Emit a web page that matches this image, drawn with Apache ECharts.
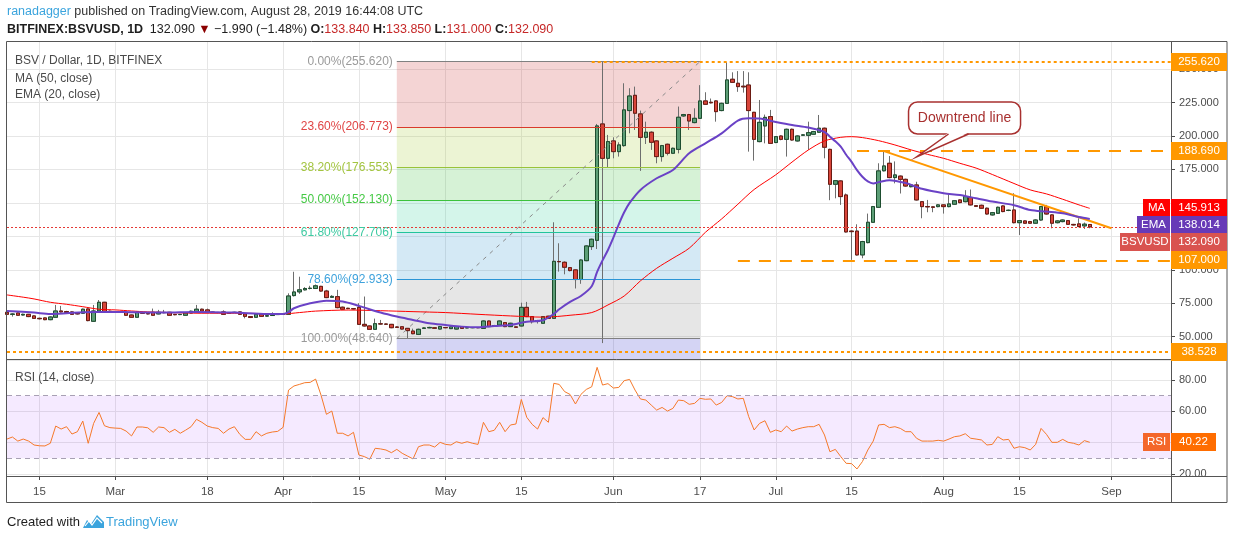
<!DOCTYPE html>
<html><head><meta charset="utf-8">
<script src="https://cdn.jsdelivr.net/npm/echarts@6/dist/echarts.min.js"></script>
<style>html,body{margin:0;padding:0;background:#fff}#c{width:1234px;height:540px}</style>
</head><body><div id="c"></div>
<script>
// ---------------- DATA ----------------
const firstDay = Date.UTC(2019, 1, 9);   // Feb 9 2019
const dayCount = 216;                     // through Sep 12 (right margin of chart)
const dates = [];
for (let k = 0; k < dayCount; k++) dates.push(new Date(firstDay + k * 86400000).toISOString().slice(0, 10));

const tickDates = ['2019-02-15','2019-03-01','2019-03-18','2019-04-01','2019-04-15','2019-05-01','2019-05-15','2019-06-01','2019-06-17','2019-07-01','2019-07-15','2019-08-01','2019-08-15','2019-09-01'];
const tickTexts = ['15','Mar','18','Apr','15','May','15','Jun','17','Jul','15','Aug','15','Sep'];
// price-axis labels that sit under the value tags (hidden, as in the reference)
const hiddenPriceLabels = [125, 150];

// daily candles: [open, high, low, close]
const candles = [
[68.2,69.0,66.0,66.7],[66.7,67.5,65.0,66.9],[67.7,68.0,65.5,66.0],[66.2,67.2,65.8,66.7],[66.7,67.0,64.6,65.0],
[65.5,66.0,63.3,63.7],[63.7,64.2,62.8,63.4],[64.0,64.3,62.3,62.7],[62.7,65.2,62.3,64.7],[64.5,73.7,64.2,69.2],
[69.2,73.0,68.0,68.5],[68.8,69.3,67.6,68.1],[68.5,69.0,66.2,66.7],[67.6,67.9,66.5,67.0],[67.5,71.0,67.0,70.5],
[70.7,71.2,61.5,62.0],[61.5,73.7,61.0,69.2],[69.2,77.4,69.0,75.7],[75.7,76.0,68.3,68.7],[69.0,69.5,67.8,68.3],
[68.5,69.0,68.0,68.4],[68.3,68.8,67.8,68.2],[68.2,68.5,65.7,66.0],[66.2,66.5,64.0,64.5],[64.5,68.6,64.2,68.2],
[67.8,68.2,67.0,67.5],[67.3,67.6,66.6,67.0],[68.2,71.0,65.7,66.0],[67.0,70.0,66.7,68.2],[68.1,70.0,67.5,67.9],
[68.2,68.5,65.6,66.0],[66.6,67.0,66.0,66.4],[66.5,67.0,66.1,66.6],[66.0,68.0,65.7,67.7],[67.7,69.5,67.4,69.0],
[68.8,73.7,68.5,70.5],[70.5,71.0,68.8,69.2],[70.0,71.0,67.9,68.2],[68.3,68.7,67.8,68.2],[68.1,68.4,67.6,68.0],
[68.5,69.7,66.4,66.7],[67.3,67.9,67.0,67.5],[68.0,68.6,67.7,68.2],[68.5,68.8,66.3,66.7],[67.0,67.3,63.7,65.2],
[65.0,65.4,63.9,64.3],[64.5,67.0,64.2,66.7],[67.0,67.3,64.8,65.2],[65.4,66.0,65.0,65.6],[65.8,68.2,65.5,66.0],
[66.5,67.0,66.2,66.7],[66.6,67.2,66.3,66.8],[66.7,82.4,66.4,80.4],[80.7,98.5,80.0,83.4],[83.5,94.8,82.0,85.0],
[85.0,87.0,84.5,86.0],[86.0,88.0,85.3,86.2],[86.0,89.0,85.6,88.0],[87.6,88.0,83.6,84.1],[84.1,85.0,78.8,79.2],
[79.4,81.0,79.0,80.1],[79.9,85.0,71.2,71.7],[72.0,72.5,70.0,70.5],[71.2,71.6,70.5,71.0],[70.9,71.3,70.3,70.8],
[71.9,75.0,58.8,59.2],[59.2,80.0,57.5,58.0],[58.0,58.3,55.0,55.5],[55.5,63.5,55.2,59.7],[59.6,62.5,59.0,59.5],
[59.4,59.8,58.8,59.3],[59.2,59.5,56.3,56.7],[57.2,57.6,56.5,57.0],[57.4,57.7,55.3,55.7],[56.2,56.5,48.64,54.5],
[54.2,56.0,51.8,52.2],[51.7,56.0,51.2,55.5],[56.2,57.0,55.8,56.5],[56.6,57.4,56.3,56.9],[56.6,57.0,55.9,56.3],
[55.7,58.0,55.4,57.5],[56.8,57.1,56.3,56.7],[56.0,57.7,55.7,57.3],[55.7,57.9,55.4,57.5],[57.5,57.8,55.9,56.2],
[56.6,57.1,56.3,56.7],[56.7,57.2,56.3,56.8],[56.8,57.1,56.3,56.7],[56.2,62.2,55.9,61.7],[61.7,62.0,57.1,57.5],
[58.0,58.8,57.6,58.3],[58.7,62.1,58.4,61.7],[60.5,60.8,57.1,57.5],[57.5,60.4,57.2,60.0],[57.3,57.6,56.6,57.0],
[58.0,75.4,57.7,71.9],[71.9,76.0,64.6,65.0],[65.0,65.3,59.8,61.2],[61.5,62.5,59.8,62.0],[60.0,65.4,59.7,65.0],
[65.3,65.6,63.3,63.7],[63.7,135.5,63.4,106.3],[106.2,119.8,98.6,106.0],[105.6,106.3,96.6,101.9],[101.6,102.0,98.8,99.4],
[99.9,100.3,86.0,92.7],[92.7,107.8,89.5,107.3],[106.8,118.3,106.4,117.8],[117.3,123.3,114.8,122.8],[122.0,209.0,115.5,207.5],
[209.0,255.62,45.2,183.3],[183.3,200.8,176.6,195.8],[196.3,199.0,183.3,188.3],[188.3,195.3,184.6,193.3],[192.8,239.4,192.0,219.5],
[219.0,235.7,202.0,229.9],[230.4,236.9,204.5,217.0],[216.5,219.0,173.9,199.0],[199.0,210.7,194.0,202.8],[202.8,203.5,189.6,195.3],
[196.3,196.8,179.6,184.6],[184.6,193.3,180.8,192.8],[193.8,194.3,185.5,187.1],[187.1,191.3,186.5,190.8],[190.0,222.0,187.0,214.0],
[215.0,216.5,214.3,216.0],[216.0,216.5,204.5,211.2],[210.0,220.7,209.5,213.2],[213.2,238.0,212.7,226.2],[226.2,232.7,223.2,223.7],
[225.2,228.0,224.3,224.8],[226.2,226.7,210.7,218.2],[219.0,224.9,218.5,224.4],[224.4,255.0,223.9,241.9],[242.4,247.6,239.6,240.1],
[239.4,248.5,233.0,236.9],[237.2,248.5,232.4,236.7],[238.1,247.6,188.3,219.0],[217.7,218.0,181.6,197.5],[195.8,226.9,195.3,210.2],
[207.5,216.0,194.5,213.9],[214.5,219.5,194.0,194.5],[195.1,200.0,194.6,199.5],[200.0,200.5,196.8,197.5],[197.5,205.5,184.6,205.0],
[205.0,205.5,196.5,197.0],[196.3,200.5,195.8,200.0],[200.6,201.3,200.2,200.8],[200.5,210.7,189.6,202.5],[201.3,203.8,200.8,203.3],
[202.8,215.7,202.3,205.8],[205.8,206.3,183.3,191.6],[190.0,190.5,152.0,163.9],[163.9,167.1,153.4,166.6],[166.4,166.9,148.5,154.7],
[155.9,157.0,127.8,128.3],[128.9,129.5,107.4,128.5],[128.9,134.0,110.6,111.1],[111.1,121.6,108.6,121.1],[120.3,142.0,119.8,135.5],
[135.5,147.7,135.0,147.2],[146.7,179.6,146.2,173.9],[174.0,189.5,173.5,177.6],[179.6,185.0,168.4,168.9],[168.9,181.0,164.6,170.9],
[170.0,170.5,157.0,167.6],[167.6,168.1,162.1,162.6],[162.1,163.9,161.6,163.4],[163.4,165.8,151.7,152.2],[150.9,151.4,138.5,147.2],
[147.3,152.2,143.0,147.0],[147.0,147.3,143.0,146.7],[147.2,149.0,146.7,148.5],[148.5,149.0,142.0,147.2],[147.2,157.0,146.7,149.2],
[149.0,152.1,148.5,151.6],[152.2,152.7,149.7,150.2],[150.9,159.5,150.4,154.7],[154.0,160.0,148.0,148.5],[147.9,148.3,146.9,147.4],
[148.2,148.7,145.5,146.0],[146.0,146.5,141.2,141.7],[141.0,143.2,140.5,142.7],[142.2,147.2,141.7,146.7],[147.7,148.2,143.0,143.5],
[144.3,145.0,143.8,144.5],[144.7,157.2,134.7,135.2],[135.2,137.2,126.0,136.7],[136.5,137.0,134.3,134.8],[136.0,136.5,134.3,134.8],
[134.8,137.7,134.3,137.2],[137.2,147.7,136.7,147.2],[147.2,148.5,141.2,141.7],[141.0,141.5,131.0,134.8],[135.2,137.0,134.7,136.5],
[136.0,137.7,135.5,137.2],[136.7,137.2,133.5,134.0],[133.9,134.3,133.0,133.5],[134.3,138.5,131.8,132.3],[132.8,135.3,130.5,134.08],
[133.84,133.85,131.0,132.09]
];

// MA(50) and EMA(20): [day index, value]
const maPoints = [[0,81.2],[3,79.5],[5,78.2],[8,75.7],[11,74.2],[14,72.4],[17,70.5],[20,70],[23,69.2],[26,68.5],[30,68],[33,67.7],[36,67.5],[42,67.5],[48,67.2],[51,67],[54,68],[57,69.1],[63,69.9],[69,69.4],[75,68.7],[81,68],[87,66.7],[93,65.5],[99,64.6],[101,64.9],[104,66],[108,68],[111,73.7],[114,80.4],[117,91.7],[120,101.1],[123,108.6],[126,116.1],[129,128],[132,138],[135,149],[138,160],[142,171],[145,180.5],[148,189.5],[151,196.3],[154,199],[156,199.5],[158,198.8],[161,196.5],[164,193.3],[167,189.6],[170,186.3],[173,183.3],[176,179.6],[179,176],[182,171.2],[186,164.5],[189,159.7],[192,156.7],[195,152.7],[198,148.5],[200,145.913]];
const emaPoints = [[0,69.2],[5,68],[8,67],[11,67.5],[14,68.2],[17,68.5],[20,68.5],[23,68.2],[29,68],[35,68.5],[42,68],[48,67],[51,67],[52,68.3],[53,71.2],[56,74.9],[59,76.9],[62,76.3],[65,73],[69,68],[72,65],[75,62.5],[78,60],[81,58.7],[84,57.5],[87,57],[90,58],[93,58.7],[96,61.2],[99,62.3],[101,67],[102,70.5],[104,76],[106,80.4],[108,87.7],[109,98.4],[110,107],[111,114.8],[112,124],[113,134],[114,143],[115,150],[117,159.7],[120,168.4],[123,174.6],[126,187.1],[129,194.5],[132,202],[135,211.5],[137,213.2],[139,213],[142,210.5],[145,208.2],[148,206.3],[151,203],[152,199.5],[153,196],[154,192],[155,186],[156,180.6],[157,174.5],[158,169.5],[159,166],[160,164.5],[161,165.5],[163,167],[166,164.8],[169,160.5],[173,157.2],[176,155.9],[179,153.4],[182,151],[186,148.3],[189,144.7],[192,143.5],[195,142.2],[198,139.5],[200,138.014]];

// RSI(14)
const rsiValues = [42.3,43.6,41,42.3,41,38.5,38,37.9,39.6,50.6,
48.7,50.2,45.5,47,53.8,39.6,52.3,59.3,50.8,49.6,
49.3,49.1,47.4,44.3,50,50,49.5,46.6,50,49.6,
46.6,48.5,46,48,50.2,54.9,53,50.6,49.6,49.1,
46,48.7,50.2,45.3,42.1,42.1,47,44.3,46,46.8,
47.2,49.8,73.6,76.2,77.2,78.3,78.5,80.6,70.4,58.1,
60.2,46,46,44.3,46.6,32.1,31.1,29.4,36.4,36,
35.3,33.6,35.7,33.2,31.4,29.6,37.4,38.5,38.5,37.2,
40.2,38.9,38.5,40.6,39.6,40.6,39.6,38.9,53,47,
47.9,53,47,51.3,51.9,67.6,56.2,51.7,48.7,56,
53,77.9,77.2,72.6,70.8,64.7,70.8,74,75.7,88.1,
76.8,77.7,74.9,75.3,79.6,80.4,73.6,67.9,67.2,64,
60.8,62.5,60.2,61.9,67.2,66.8,64.5,65.1,68.3,67.7,
67.9,64,65.7,70,69.4,67.9,68.3,56.6,48.1,52.3,
54,46.6,48.1,47,50.6,47.4,48.7,49.6,50.2,50.2,
51.7,44.9,34.2,35.7,31.1,26.8,26.6,23.2,27.9,35.3,
41,51.3,51.7,49.6,50.2,49.1,47,47,42.8,41,
41,41,41.5,41,42.3,43.8,44.3,45.7,42.8,42.3,
41.7,38.5,38.9,43.8,41.7,42.1,36.4,37.4,36.8,35.3,
38.9,49.1,45.3,40.2,40.2,42.1,40.2,39.6,38.5,41.3,
40.22];

// Fibonacci retracement
const fibRatios = ['0.00%','23.60%','38.20%','50.00%','61.80%','78.60%','100.00%'];
const fibValues = [255.620, 206.773, 176.553, 152.130, 127.706, 92.933, 48.640];
const fibStartIdx = 72, fibEndIdx = 128;

// horizontal levels & trend line
const levelTop = 255.620, levelResist = 188.690, levelSupport = 107.000, levelBottom = 38.528;
const trendStart = [162, 188.69], trendEnd = [204, 131.0];
const lastPrice = 132.090, lastMA = 145.913, lastEMA = 138.014, lastRSI = 40.22;

// ---------------- CHART ----------------
const yMin = 33.3, yMax = 271, rMin = 18.7, rMax = 92.8;
const GL = 7, GR = 1171, T1 = 41, B1 = 359, T2 = 360, B2 = 476, FR = 1227, FB = 503;
const FONT = 'Liberation Sans, Arial, sans-serif';

const tickSet = new Set(tickDates);
const tickMap = {}; tickDates.forEach((d, k) => tickMap[d] = tickTexts[k]);
const isTick = (idx, val) => tickSet.has(val);

const wickData = candles.map(c => [c[0], c[3], c[2], c[1]]);
const bodyData = candles.map(c => [c[0], c[3], Math.min(c[0], c[3]), Math.max(c[0], c[3])]);

const fibLineColors = ['#808080','#d93b2b','#99c23a','#3cc23c','#22c49b','#2b95d6','#808080'];
const fibLabelColors = ['#9a9a9a','#e04545','#a3c440','#45c945','#3fcaa2','#3ea2dc','#9a9a9a'];
const fibFill = ['rgba(200,40,40,0.2)','rgba(160,200,40,0.2)','rgba(50,190,50,0.2)','rgba(40,205,150,0.2)','rgba(40,145,205,0.2)','rgba(128,128,128,0.2)','rgba(40,40,200,0.2)'];

const fibAreas = [];
for (let k = 1; k < fibValues.length; k++) {
  fibAreas.push([{xAxis: dates[fibStartIdx], yAxis: fibValues[k - 1], itemStyle: {color: fibFill[k - 1]}}, {xAxis: dates[fibEndIdx], yAxis: fibValues[k]}]);
}
fibAreas.push([{xAxis: dates[fibStartIdx], yAxis: fibValues[fibValues.length - 1], itemStyle: {color: fibFill[6]}}, {xAxis: dates[fibEndIdx], yAxis: yMin}]);

const fibLines = fibValues.map((v, k) => [
  {coord: [dates[fibStartIdx], v], lineStyle: {color: fibLineColors[k], width: 1, type: 'solid'},
   label: {show: true, position: 'start', distance: 4, formatter: fibRatios[k] + '(' + v.toFixed(3) + ')', color: fibLabelColors[k], fontSize: 12, fontFamily: FONT}},
  {coord: [dates[fibEndIdx], v]}
]);
fibLines.push([
  {coord: [dates[fibStartIdx], fibValues[6]], lineStyle: {color: '#8a8a8a', width: 1, type: [4, 5]}, label: {show: false}},
  {coord: [dates[fibEndIdx], fibValues[0]]}
]);

const last = dates[dayCount - 1];
const ORANGE = '#ff9800';
const overlayLines = [
  [{coord: [dates[0], lastPrice], lineStyle: {color: '#e53935', width: 1, type: [2, 2]}}, {coord: [last, lastPrice]}],
  [{coord: [dates[108], levelTop], lineStyle: {color: ORANGE, width: 2, type: [3, 3]}}, {coord: [last, levelTop]}],
  [{coord: [dates[0], levelBottom], lineStyle: {color: ORANGE, width: 2, type: [3, 3]}}, {coord: [last, levelBottom]}],
  [{coord: [dates[157], levelResist], lineStyle: {color: ORANGE, width: 2, type: [12, 9]}}, {coord: [last, levelResist]}],
  [{coord: [dates[135], levelSupport], lineStyle: {color: ORANGE, width: 2, type: [12, 9]}}, {coord: [last, levelSupport]}],
  [{coord: [dates[trendStart[0]], trendStart[1]], lineStyle: {color: ORANGE, width: 2, type: 'solid'}}, {coord: [dates[trendEnd[0]], trendEnd[1]]}]
];

const chart = echarts.init(document.getElementById('c'), null, {renderer: 'canvas'});
const baseX = {
  type: 'category', data: dates, boundaryGap: false,
  axisLine: {show: false}, axisTick: {show: false}, axisLabel: {show: false},
  splitLine: {show: true, interval: isTick, lineStyle: {color: '#e6e6e6', width: 1}}
};
const option = {
  animation: false,
  backgroundColor: '#ffffff',
  textStyle: {fontFamily: FONT},
  grid: [
    {left: GL, top: T1, width: GR - GL, height: B1 - T1, containLabel: false, outerBoundsMode: 'none'},
    {left: GL, top: T2, width: GR - GL, height: B2 - T2, containLabel: false, outerBoundsMode: 'none'}
  ],
  xAxis: [
    Object.assign({}, baseX, {gridIndex: 0}),
    Object.assign({}, baseX, {gridIndex: 1,
      axisTick: {show: true, interval: isTick, length: 4, lineStyle: {color: '#4a4a4a'}},
      axisLabel: {show: true, interval: isTick, formatter: v => tickMap[v] || '', color: '#4d4d4d', fontSize: 11.5, margin: 10, fontFamily: FONT}})
  ],
  yAxis: [
    {type: 'value', gridIndex: 0, position: 'right', min: yMin, max: yMax, minInterval: 25, maxInterval: 25, splitNumber: 9,
     axisLine: {show: false}, axisTick: {show: true, length: 4, lineStyle: {color: '#4a4a4a'}},
     axisLabel: {formatter: v => hiddenPriceLabels.indexOf(Math.round(v)) >= 0 ? '' : v.toFixed(3), color: '#4d4d4d', fontSize: 11, margin: 8, showMinLabel: false, showMaxLabel: false, fontFamily: FONT},
     splitLine: {show: true, lineStyle: {color: '#e6e6e6'}}},
    {type: 'value', gridIndex: 1, position: 'right', min: rMin, max: rMax, minInterval: 20, maxInterval: 20, splitNumber: 4,
     axisLine: {show: false}, axisTick: {show: true, length: 4, lineStyle: {color: '#4a4a4a'}},
     axisLabel: {formatter: v => v.toFixed(2), color: '#4d4d4d', fontSize: 11, margin: 8, showMinLabel: false, showMaxLabel: false, fontFamily: FONT},
     splitLine: {show: true, lineStyle: {color: '#e6e6e6'}}}
  ],
  series: [
    {type: 'line', name: 'fib', xAxisIndex: 0, yAxisIndex: 0, data: [], silent: true, z: 1,
     markArea: {silent: true, data: fibAreas},
     markLine: {silent: true, symbol: ['none', 'none'], animation: false, data: fibLines}},
    {type: 'candlestick', name: 'wick', xAxisIndex: 0, yAxisIndex: 0, data: wickData, barWidth: 4, z: 3, silent: true,
     itemStyle: {color: '#5c9e76', color0: '#d8453a', borderColor: '#6e6e6e', borderColor0: '#6e6e6e', borderWidth: 1}},
    {type: 'candlestick', name: 'body', xAxisIndex: 0, yAxisIndex: 0, data: bodyData, barWidth: 4, z: 4, silent: true,
     itemStyle: {color: '#5c9e76', color0: '#d8453a', borderColor: '#1d4d2f', borderColor0: '#6b1a12', borderWidth: 1}},
    {type: 'line', name: 'MA', xAxisIndex: 0, yAxisIndex: 0, data: maPoints, symbol: 'none', smooth: 0.3, z: 5, silent: true,
     lineStyle: {color: '#ff0000', width: 1}},
    {type: 'line', name: 'EMA', xAxisIndex: 0, yAxisIndex: 0, data: emaPoints, symbol: 'none', smooth: 0.3, z: 5, silent: true,
     lineStyle: {color: '#6a42c6', width: 2}},
    {type: 'line', name: 'levels', xAxisIndex: 0, yAxisIndex: 0, data: [], silent: true, z: 6,
     markLine: {silent: true, symbol: ['none', 'none'], label: {show: false}, animation: false, data: overlayLines}},
    {type: 'line', name: 'RSI', xAxisIndex: 1, yAxisIndex: 1, data: rsiValues, symbol: 'none', z: 4, silent: true,
     lineStyle: {color: '#f5792a', width: 1},
     markArea: {silent: true, itemStyle: {color: 'rgba(153,51,255,0.1)'}, data: [[{yAxis: 30}, {yAxis: 70}]]},
     markLine: {silent: true, symbol: ['none', 'none'], label: {show: false}, animation: false,
       lineStyle: {color: '#a8a0b4', type: [5, 4], width: 1}, data: [{yAxis: 70}, {yAxis: 30}]}}
  ]
};
chart.setOption(option);

// ---------------- annotations (positioned through the chart's scales) ----------------
const G = [];
const py = v => chart.convertToPixel({yAxisIndex: 0}, v);
const ry = v => chart.convertToPixel({yAxisIndex: 1}, v);
function tag(x, y, w, text, color) {
  G.push({type: 'rect', z: 100, shape: {x: x, y: Math.round(y) - 9, width: w, height: 18}, style: {fill: color}});
  G.push({type: 'text', z: 101, x: x + w / 2, y: Math.round(y), style: {text: text, fill: '#ffffff', font: '11.5px ' + FONT, align: 'center', verticalAlign: 'middle'}});
}
// frame
G.push({type: 'rect', z: 90, shape: {x: 6.5, y: T1 + 0.5, width: FR - 6.5, height: FB - T1 - 1}, style: {fill: 'none', stroke: '#555555', lineWidth: 1}});
G.push({type: 'line', z: 90, shape: {x1: GR + 0.5, y1: T1, x2: GR + 0.5, y2: FB}, style: {stroke: '#555555', lineWidth: 1}});
G.push({type: 'line', z: 90, shape: {x1: 6.5, y1: B1 + 0.5, x2: FR, y2: B1 + 0.5}, style: {stroke: '#555555', lineWidth: 1}});
G.push({type: 'line', z: 90, shape: {x1: 6.5, y1: B2 + 0.5, x2: FR, y2: B2 + 0.5}, style: {stroke: '#555555', lineWidth: 1}});

// value tags on price axis
const VX = GR, VW = 56;
tag(VX, py(levelTop), VW, levelTop.toFixed(3), ORANGE);
tag(VX, py(levelResist), VW, levelResist.toFixed(3), ORANGE);
tag(VX, py(levelSupport), VW, levelSupport.toFixed(3), ORANGE);
tag(VX, py(levelBottom), VW, levelBottom.toFixed(3), ORANGE);
let yMA = py(lastMA);
let yEMA = Math.max(py(lastEMA), yMA + 17);
let yPx = Math.max(py(lastPrice), yEMA + 17);
tag(VX - 28, yMA, 27, 'MA', '#ff0000'); tag(VX, yMA, VW, lastMA.toFixed(3), '#ff0000');
tag(VX - 34, yEMA, 33, 'EMA', '#673ab7'); tag(VX, yEMA, VW, lastEMA.toFixed(3), '#673ab7');
tag(VX - 51, yPx, 50, 'BSVUSD', '#d9534f'); tag(VX, yPx, VW, lastPrice.toFixed(3), '#d9534f');
// RSI tags
tag(VX - 28, ry(lastRSI), 27, 'RSI', '#f4672a'); tag(VX, ry(lastRSI), 45, lastRSI.toFixed(2), '#ff6d00');

// downtrend callout
const tip = chart.convertToPixel({gridIndex: 0}, [dates[168], 184.3]);
const bx = tip[0] - 8, by = tip[1] - 55, bw = 112, bh = 32;
G.push({type: 'rect', z: 110, shape: {x: bx, y: by, width: bw, height: bh, r: 9}, style: {fill: '#ffffff', stroke: '#a8302f', lineWidth: 1.5}});
G.push({type: 'polygon', z: 111, shape: {points: [[bx + 40, by + bh - 1.5], [bx + 60, by + bh - 1.5], tip]}, style: {fill: '#ffffff'}});
G.push({type: 'polyline', z: 112, shape: {points: [[bx + 40, by + bh], tip, [bx + 60, by + bh]]}, style: {stroke: '#a8302f', lineWidth: 1.5, fill: 'none'}});
G.push({type: 'text', z: 113, x: bx + bw / 2, y: by + bh / 2, style: {text: 'Downtrend line', fill: '#a8302f', font: '14px ' + FONT, align: 'center', verticalAlign: 'middle'}});

// header
G.push({type: 'text', z: 120, x: 7, y: 12, style: {
  text: '{a|ranadagger} {b|published on TradingView.com, August 28, 2019 16:44:08 UTC}', verticalAlign: 'middle',
  rich: {a: {fill: '#3ba4dd', fontSize: 12.5, fontFamily: FONT}, b: {fill: '#333333', fontSize: 12.5, fontFamily: FONT}}}});
G.push({type: 'text', z: 120, x: 7, y: 30, style: {
  text: '{k|BITFINEX:BSVUSD, 1D}  {n|132.090} {t|▼} {n|\u22121.990 (\u22121.48%)} {k|O:}{r|133.840} {k|H:}{r|133.850} {k|L:}{r|131.000} {k|C:}{r|132.090}',
  verticalAlign: 'middle',
  rich: {k: {fill: '#1e1e1e', fontSize: 12.5, fontWeight: 'bold', fontFamily: FONT},
         n: {fill: '#1e1e1e', fontSize: 12.5, fontFamily: FONT},
         t: {fill: '#8b0000', fontSize: 12.5, fontFamily: FONT},
         r: {fill: '#c62828', fontSize: 12.5, fontFamily: FONT}}}});
// pane legends
[['BSV / Dollar, 1D, BITFINEX', 61], ['MA (50, close)', 79], ['EMA (20, close)', 95], ['RSI (14, close)', 378]].forEach(t => {
  G.push({type: 'text', z: 120, x: 15, y: t[1], style: {text: t[0], fill: '#4a4a4a', font: '12px ' + FONT, verticalAlign: 'middle'}});
});
// footer
G.push({type: 'text', z: 120, x: 7, y: 522, style: {text: 'Created with', fill: '#1e1e1e', font: '13px ' + FONT, verticalAlign: 'middle'}});
G.push({type: 'polygon', z: 120, shape: {points: [[83, 528], [87, 520], [91, 524], [97, 515], [104, 522], [104, 528]]}, style: {fill: '#3ba4dd'}});
G.push({type: 'polyline', z: 121, shape: {points: [[85, 526], [89, 521], [92, 525], [97, 518], [102, 523]]}, style: {stroke: '#ffffff', lineWidth: 1.2, fill: 'none'}});
G.push({type: 'text', z: 120, x: 106, y: 522, style: {text: 'TradingView', fill: '#3ba4dd', font: '13px ' + FONT, verticalAlign: 'middle'}});

chart.setOption({graphic: G});
</script></body></html>
